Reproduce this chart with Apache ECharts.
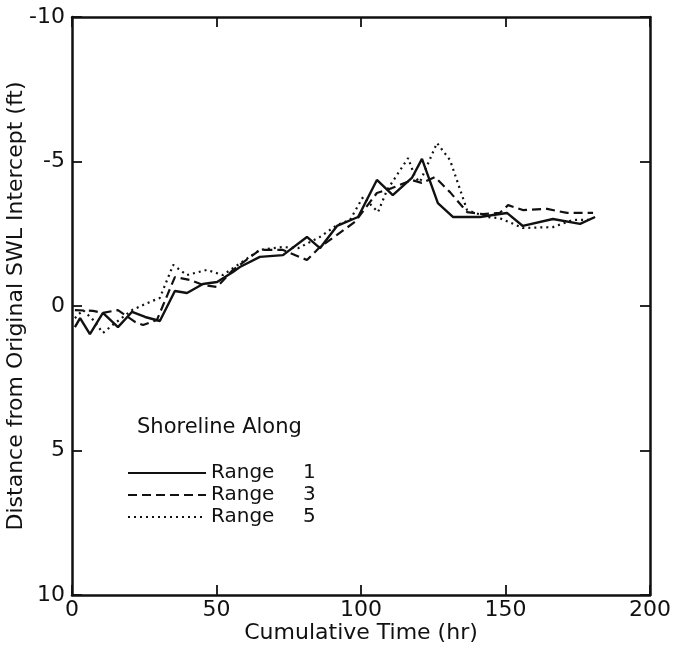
<!DOCTYPE html>
<html><head><meta charset="utf-8">
<script src="https://cdn.jsdelivr.net/npm/echarts@6/dist/echarts.min.js"></script>
<style>html,body{margin:0;padding:0;background:#fff}#c{width:679px;height:656px}</style>
</head><body><div id="c"></div>
<script>
// Data (Cumulative time hr, distance ft)
const range1 = [[1,0.73],[2.8,0.42],[6.2,0.97],[10.7,0.24],[15.9,0.73],[20.8,0.2],[25.3,0.38],[30.4,0.52],[35.6,-0.52],[39.8,-0.45],[45.3,-0.76],[50.2,-0.83],[55.7,-1.18],[58.1,-1.35],[65,-1.7],[73,-1.76],[81.3,-2.39],[85.8,-2.0],[91.7,-2.77],[99,-3.08],[105.5,-4.36],[111,-3.84],[117.6,-4.43],[121.1,-5.09],[126.6,-3.56],[131.8,-3.08],[141.2,-3.08],[145.7,-3.15],[150.5,-3.22],[156,-2.77],[166.4,-3.01],[175.8,-2.84],[181,-3.08]];
const range3 = [[1,0.14],[7.3,0.17],[10.7,0.24],[15.9,0.14],[21.8,0.55],[24.6,0.66],[29.4,0.48],[35.6,-1.0],[40.8,-0.9],[45.3,-0.73],[50.2,-0.66],[55.7,-1.25],[65,-1.94],[73,-1.94],[81.3,-1.59],[85.8,-2.04],[91.7,-2.46],[97.9,-2.91],[105.5,-3.91],[110.7,-4.08],[117.6,-4.36],[121,-4.26],[125.6,-4.46],[130.8,-3.94],[136.7,-3.25],[142.2,-3.18],[148,-3.22],[150.9,-3.49],[156,-3.32],[164.4,-3.36],[171.3,-3.22],[180.3,-3.22]];
const range5 = [[1,0.42],[3.8,0.14],[7.3,0.48],[10.7,0.93],[14.9,0.59],[20.8,0.14],[26,-0.1],[30.4,-0.28],[35,-1.42],[39.8,-1.07],[46.7,-1.25],[52.2,-1.07],[55.7,-1.31],[65,-1.94],[73,-2.04],[78.2,-2.0],[85.8,-2.39],[91.7,-2.8],[96.2,-2.98],[100.7,-3.77],[105.9,-3.25],[109,-4.01],[116.3,-5.12],[118.7,-4.46],[120.4,-4.29],[126.3,-5.64],[130.8,-5.05],[136.7,-3.32],[143.6,-3.08],[148,-3.04],[156,-2.7],[166.4,-2.73],[173.4,-2.98],[180.3,-2.98]];
const seriesNames = ['Range 1','Range 3','Range 5'];
const xTicks = [0,50,100,150,200];
const yTicks = [-10,-5,0,5,10];

const FONT = 'DejaVu Sans';
const chart = echarts.init(document.getElementById('c'));
const axisCommon = {
  axisLine:{show:true,onZero:false,lineStyle:{color:'#111',width:2.5}},
  axisTick:{show:true,inside:true,length:10,lineStyle:{color:'#111',width:1.8}},
  splitLine:{show:false}
};
chart.setOption({
  animation:false,
  backgroundColor:'#fff',
  grid:{left:72,right:29,top:17,bottom:61,containLabel:false,outerBoundsMode:'none'},
  title:{text:'Shoreline Along',left:132,top:412,textStyle:{fontFamily:FONT,fontSize:21,fontWeight:'normal',color:'#111'}},
  legend:{
    orient:'vertical',left:122,top:457,itemGap:0,itemWidth:78,itemHeight:14,
    data:seriesNames,
    itemStyle:{opacity:0},
    formatter:function(n){const p=n.split(' ');return '{a|'+p[0]+'}{b|'+p[1]+'}';},
    textStyle:{fontFamily:FONT,fontSize:20,lineHeight:22,color:'#111',rich:{a:{width:92,fontFamily:FONT,fontSize:20,lineHeight:22,color:'#111'},b:{fontFamily:FONT,fontSize:20,lineHeight:22,color:'#111'}}}
  },
  xAxis:[
    Object.assign({type:'value',min:xTicks[0],max:xTicks[xTicks.length-1],interval:50,
      name:'Cumulative Time (hr)',nameLocation:'middle',nameGap:27,nameMoveOverlap:false,
      nameTextStyle:{fontFamily:FONT,fontSize:22,color:'#111',verticalAlign:'top'},
      axisLabel:{fontFamily:FONT,fontSize:22,color:'#111',margin:4}},axisCommon),
    Object.assign({type:'value',position:'top',min:0,max:200,interval:50,axisLabel:{show:false}},axisCommon)
  ],
  yAxis:[
    Object.assign({type:'value',inverse:true,min:yTicks[0],max:yTicks[yTicks.length-1],interval:5,
      name:'Distance from Original SWL Intercept (ft)',nameLocation:'middle',nameGap:45,nameMoveOverlap:false,
      nameTextStyle:{fontFamily:FONT,fontSize:22,color:'#111'},
      axisLabel:{fontFamily:FONT,fontSize:22,color:'#111',margin:7}},axisCommon),
    Object.assign({type:'value',position:'right',inverse:true,min:-10,max:10,interval:5,axisLabel:{show:false}},axisCommon)
  ],
  series:[
    {name:seriesNames[0],type:'line',data:range1,symbol:'none',lineStyle:{color:'#111',width:2.4,type:'solid'},itemStyle:{color:'#111'}},
    {name:seriesNames[1],type:'line',data:range3,symbol:'none',lineStyle:{color:'#111',width:2.2,type:[9,5]},itemStyle:{color:'#111'}},
    {name:seriesNames[2],type:'line',data:range5,symbol:'none',lineStyle:{color:'#111',width:2.2,type:[2,4]},itemStyle:{color:'#111'}}
  ]
});
</script></body></html>
